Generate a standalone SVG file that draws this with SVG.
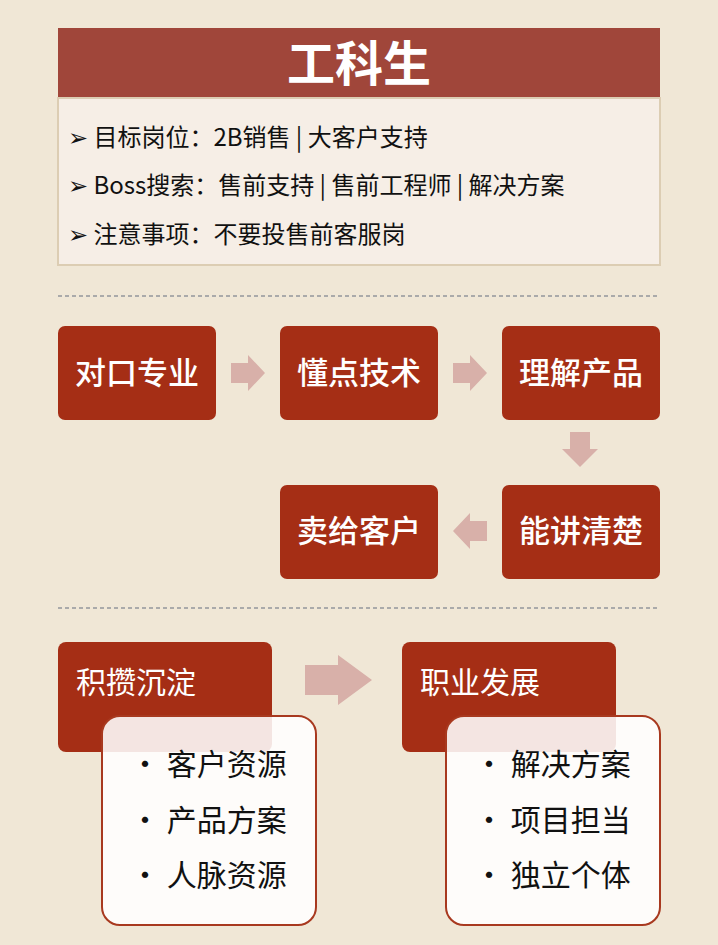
<svg xmlns="http://www.w3.org/2000/svg" width="718" height="945" viewBox="0 0 718 945">
<style>
text{font-family:"Noto Sans CJK SC","Liberation Sans",sans-serif}
.box{fill:#a52e15}
.bt{fill:#fff;font-size:31px;text-anchor:middle;font-weight:500}
.ar{fill:#d8b0a9}
.it{font-size:24px;fill:#111}
.li{font-size:30px;fill:#111}
.wb{fill:#fff;fill-opacity:0.88;stroke:#a8391f;stroke-width:2}
</style>
<rect width="718" height="945" fill="#f0e7d6"/>
<g id="header">
<rect x="58" y="28" width="602" height="70" fill="#a0463a"/>
<text x="359" y="81" font-size="48" font-weight="bold" fill="#fff" text-anchor="middle">工科生</text>
<rect x="58" y="98" width="602" height="167" fill="#f6eee6" stroke="#dccdb3" stroke-width="2"/>
<text class="it" x="68" y="146">➢ 目标岗位：2B销售 | 大客户支持</text>
<text class="it" x="68" y="194">➢ Boss搜索：售前支持 | 售前工程师 | 解决方案</text>
<text class="it" x="68" y="243">➢ 注意事项：不要投售前客服岗</text>
</g>
<g id="dividers" stroke="#aaa" stroke-width="2" stroke-dasharray="4 3">
<line x1="58" y1="296" x2="660" y2="296"/>
<line x1="58" y1="608" x2="660" y2="608"/>
</g>
<g id="n1"><rect class="box" x="58" y="326" width="158" height="94" rx="7"/><text class="bt" x="137" y="384">对口专业</text></g>
<g id="n2"><rect class="box" x="280" y="326" width="158" height="94" rx="7"/><text class="bt" x="359" y="384">懂点技术</text></g>
<g id="n3"><rect class="box" x="502" y="326" width="158" height="94" rx="7"/><text class="bt" x="581" y="384">理解产品</text></g>
<g id="n4"><rect class="box" x="502" y="485" width="158" height="94" rx="7"/><text class="bt" x="581" y="542">能讲清楚</text></g>
<g id="n5"><rect class="box" x="280" y="485" width="158" height="94" rx="7"/><text class="bt" x="359" y="542">卖给客户</text></g>
<g id="connectors">
<polygon class="ar" points="231,363 248,363 248,355 265,373 248,391 248,383 231,383"/>
<polygon class="ar" points="453,363 470,363 470,355 487,373 470,391 470,383 453,383"/>
<polygon class="ar" points="570,432 590,432 590,449 598,449 580,467 562,449 570,449"/>
<polygon class="ar" points="487,521 470,521 470,513 453,531 470,549 470,541 487,541"/>
<polygon class="ar" points="305,665 338,665 338,655 372,680 338,705 338,695 305,695"/>
</g>
<g id="acc">
<rect class="box" x="58" y="642" width="214" height="110" rx="8"/>
<text x="76" y="693" font-size="30" fill="#fff">积攒沉淀</text>
<rect class="wb" x="102" y="716" width="214" height="209" rx="18"/>
<text class="li" x="130" y="775">• 客户资源</text>
<text class="li" x="130" y="831">• 产品方案</text>
<text class="li" x="130" y="886">• 人脉资源</text>
</g>
<g id="dev">
<rect class="box" x="402" y="642" width="214" height="110" rx="8"/>
<text x="420" y="693" font-size="30" fill="#fff">职业发展</text>
<rect class="wb" x="446" y="716" width="214" height="209" rx="18"/>
<text class="li" x="474" y="775">• 解决方案</text>
<text class="li" x="474" y="831">• 项目担当</text>
<text class="li" x="474" y="886">• 独立个体</text>
</g>
</svg>
